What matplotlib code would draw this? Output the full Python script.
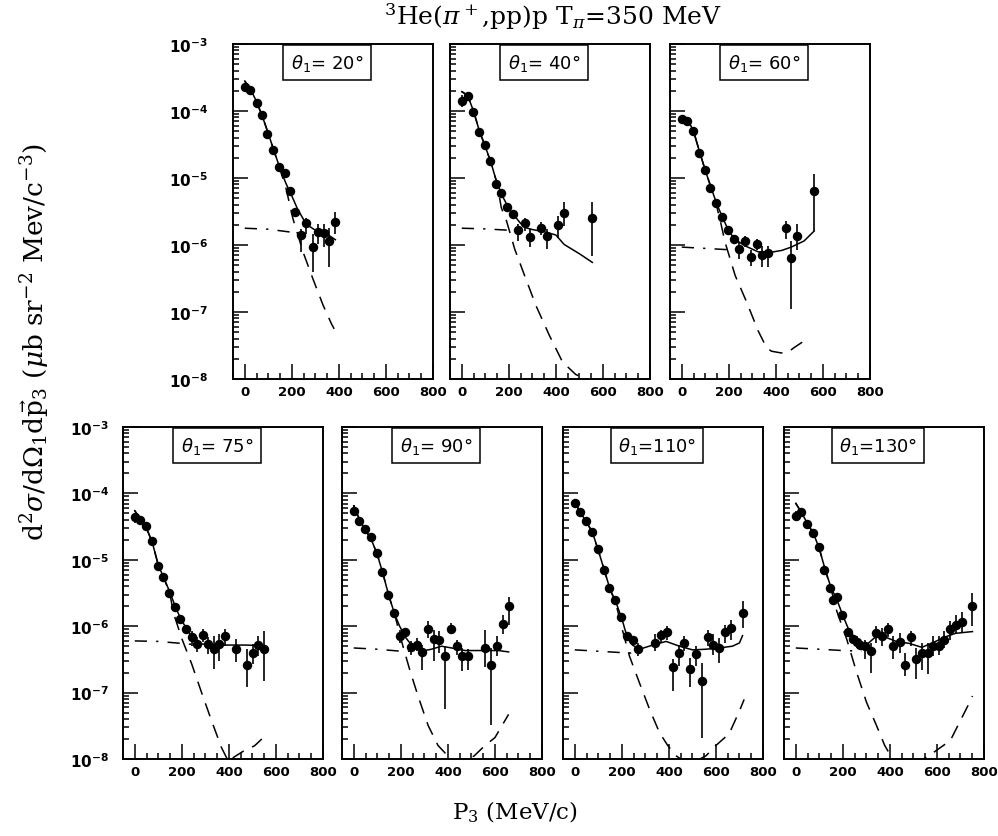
import numpy as np
import matplotlib
matplotlib.use("Agg")
import matplotlib.pyplot as plt
from matplotlib.ticker import LogLocator, MultipleLocator, NullFormatter, FuncFormatter

nan = np.nan

# ---- theta1 = 20 deg ----
x20 = [0, 24, 50, 72, 96, 120, 145, 170, 191, 215, 240, 262, 288, 312, 336, 360, 384]
y20 = [2.3e-4, 2.05e-4, 1.3e-4, 8.7e-5, 4.6e-5, 2.6e-5, 1.45e-5, 1.2e-5, 6.4e-6, 3.15e-6,
       1.42e-6, 2.1e-6, 9.3e-7, 1.58e-6, 1.5e-6, 1.16e-6, 2.2e-6]
hi20 = [nan] * 10 + [1.74e-6, 2.57e-6, 1.45e-6, 2.04e-6, 2.04e-6, 1.82e-6, 3.1e-6]
lo20 = [nan] * 10 + [7.8e-7, 1.45e-6, 3.9e-7, 1.03e-6, 9.3e-7, 4.7e-7, 1.45e-6]
cx20 = [0, 25, 50, 75, 100, 125, 150, 175, 200, 225, 250, 275, 300, 325, 350, 385]
full20 = [2.8e-4, 2.1e-4, 1.38e-4, 8.3e-5, 4.6e-5, 2.5e-5, 1.38e-5, 8.3e-6, 5.4e-6, 3.4e-6,
          2.4e-6, 1.9e-6, 1.66e-6, 1.55e-6, 1.45e-6, 1.2e-6]
qx20 = [0, 25, 50, 75, 100, 125, 150, 175, 205, 248, 290, 333, 369, 380]
qfs20 = [2.8e-4, 2.1e-4, 1.38e-4, 8.3e-5, 4.6e-5, 2.5e-5, 1.35e-5, 7.1e-6, 2.45e-6, 7.8e-7,
         3.1e-7, 1.26e-7, 6.6e-8, 5.6e-8]
bx20 = [0, 100, 200, 240]
bg20 = [1.78e-6, 1.72e-6, 1.55e-6, 1.35e-6]

# ---- theta1 = 40 deg ----
x40 = [0, 25, 49, 73, 97, 121, 145, 168, 194, 218, 241, 267, 291, 338, 362, 411, 435, 554]
y40 = [1.42e-4, 1.65e-4, 9.8e-5, 4.9e-5, 3.1e-5, 1.8e-5, 8.1e-6, 6.0e-6, 3.7e-6, 2.9e-6,
       1.66e-6, 2.1e-6, 1.3e-6, 1.8e-6, 1.35e-6, 2.0e-6, 3.0e-6, 2.5e-6]
hi40 = [1.75e-4] + [nan] * 9 + [2.04e-6, 2.57e-6, 1.74e-6, 2.19e-6, 1.74e-6, 2.75e-6, 4.4e-6, 4.4e-6]
lo40 = [1.15e-4] + [nan] * 9 + [1.15e-6, 1.62e-6, 9.3e-7, 1.41e-6, 8.7e-7, 1.26e-6, 1.95e-6, 6.9e-7]
cx40 = [0, 25, 50, 75, 100, 125, 150, 175, 200, 225, 250, 275, 300, 350, 400, 435, 500, 555]
full40 = [1.95e-4, 1.7e-4, 1.0e-4, 5.0e-5, 2.95e-5, 1.66e-5, 8.3e-6, 5.2e-6, 3.5e-6, 2.7e-6,
          2.1e-6, 1.8e-6, 1.7e-6, 1.58e-6, 1.41e-6, 1.02e-6, 7.4e-7, 5.5e-7]
qx40 = [0, 25, 50, 75, 100, 125, 150, 168, 190, 225, 267, 316, 372, 428, 484, 512]
qfs40 = [1.95e-4, 1.7e-4, 1.0e-4, 5.0e-5, 2.95e-5, 1.66e-5, 8.3e-6, 3.6e-6, 2.3e-6, 8.7e-7,
         3.5e-7, 1.23e-7, 4.5e-8, 1.8e-8, 1.17e-8, 1.05e-8]
bx40 = [0, 100, 200, 270]
bg40 = [1.78e-6, 1.74e-6, 1.66e-6, 1.6e-6]

# ---- theta1 = 60 deg ----
x60 = [0, 24, 49, 73, 98, 122, 146, 171, 195, 220, 244, 269, 293, 318, 343, 367, 441, 465, 490, 563]
y60 = [7.6e-5, 7.0e-5, 5.0e-5, 2.4e-5, 1.3e-5, 7.2e-6, 4.3e-6, 2.6e-6, 1.66e-6, 1.22e-6,
       8.7e-7, 1.15e-6, 6.7e-7, 1.02e-6, 7.1e-7, 7.6e-7, 1.78e-6, 6.5e-7, 1.38e-6, 6.4e-6]
hi60 = [nan] * 10 + [1.1e-6, 1.38e-6, 8.5e-7, 1.23e-6, 9.8e-7, 9.8e-7, 2.29e-6, 1.15e-6, 2.04e-6, 1.15e-5]
lo60 = [nan] * 10 + [6.2e-7, 9.3e-7, 4.9e-7, 8.3e-7, 4.7e-7, 4.7e-7, 1.23e-6, 1.1e-7, 8.3e-7, 1.62e-6]
cx60 = [0, 25, 50, 75, 100, 125, 150, 175, 200, 225, 250, 275, 325, 380, 425, 465, 520, 563]
full60 = [8.3e-5, 7.4e-5, 5.0e-5, 2.5e-5, 1.3e-5, 7.1e-6, 4.0e-6, 2.5e-6, 1.6e-6, 1.23e-6,
          1.07e-6, 9.5e-7, 7.9e-7, 7.8e-7, 8.3e-7, 9.3e-7, 1.15e-6, 1.62e-6]
qx60 = [0, 25, 50, 75, 100, 125, 150, 165, 184, 227, 276, 325, 360, 381, 422, 450, 478, 520]
qfs60 = [8.3e-5, 7.4e-5, 5.0e-5, 2.5e-5, 1.3e-5, 7.1e-6, 3.6e-6, 2.2e-6, 1.1e-6, 3.5e-7,
         1.4e-7, 5.2e-8, 2.95e-8, 2.6e-8, 2.45e-8, 2.5e-8, 2.95e-8, 3.7e-8]
bx60 = [0, 100, 200, 240]
bg60 = [9.3e-7, 8.9e-7, 8.5e-7, 8.3e-7]

# ---- theta1 = 75 deg ----
x75 = [0, 24, 49, 73, 98, 122, 146, 170, 194, 218, 242, 264, 288, 312, 336, 360, 384, 431,
       478, 502, 524, 548]
y75 = [4.4e-5, 4.0e-5, 3.2e-5, 1.9e-5, 8.0e-6, 5.5e-6, 3.15e-6, 1.95e-6, 1.3e-6, 9.1e-7,
       6.8e-7, 5.4e-7, 7.4e-7, 5.4e-7, 4.6e-7, 5.4e-7, 7.2e-7, 4.6e-7, 2.6e-7, 3.9e-7, 5.2e-7, 4.6e-7]
hi75 = [4.9e-5] + [nan] * 9 + [8.5e-7, 6.9e-7, 9.1e-7, 6.8e-7, 7.2e-7, 7.6e-7, 9.1e-7, 6.5e-7,
                               4.6e-7, 5.4e-7, 7.2e-7, 8.5e-7]
lo75 = [3.6e-5] + [nan] * 9 + [5.1e-7, 4.1e-7, 5.8e-7, 3.8e-7, 2.3e-7, 3.0e-7, 5.1e-7, 2.9e-7,
                               1.2e-7, 2.7e-7, 3.6e-7, 1.5e-7]
cx75 = [0, 25, 50, 75, 100, 125, 150, 175, 200, 225, 250, 284, 380, 470, 550]
full75 = [5.5e-5, 4.0e-5, 3.0e-5, 1.8e-5, 8.3e-6, 5.2e-6, 3.2e-6, 1.86e-6, 1.2e-6, 8.7e-7,
          6.3e-7, 5.4e-7, 5.2e-7, 5.2e-7, 5.1e-7]
qx75 = [0, 25, 50, 75, 100, 125, 150, 164, 200, 242, 284, 326, 368, 400, 422, 467, 509, 540]
qfs75 = [5.5e-5, 4.0e-5, 3.0e-5, 1.8e-5, 8.3e-6, 5.2e-6, 3.0e-6, 1.6e-6, 6.5e-7, 2.7e-7,
         1.0e-7, 3.8e-8, 1.5e-8, 8.9e-9, 1.07e-8, 1.35e-8, 1.58e-8, 2.0e-8]
bx75 = [0, 100, 200, 250]
bg75 = [6.0e-7, 5.9e-7, 5.5e-7, 5.3e-7]

# ---- theta1 = 90 deg ----
x90 = [0, 24, 48, 73, 97, 121, 145, 169, 195, 219, 243, 268, 292, 316, 340, 364, 389, 413,
       437, 461, 485, 557, 583, 608, 633, 658]
y90 = [5.5e-5, 3.8e-5, 2.9e-5, 2.2e-5, 1.26e-5, 6.5e-6, 3.0e-6, 1.58e-6, 7.2e-7, 8.2e-7,
       4.9e-7, 5.3e-7, 4.1e-7, 9.1e-7, 6.5e-7, 6.1e-7, 3.5e-7, 9.1e-7, 5.0e-7, 3.5e-7, 3.5e-7,
       4.7e-7, 2.6e-7, 5.0e-7, 1.07e-6, 2.0e-6]
hi90 = [6.8e-5] + [nan] * 7 + [8.9e-7, nan, 5.9e-7, 6.6e-7, 5.3e-7, 1.19e-6, 8.9e-7, 8.4e-7,
                               5.0e-7, 1.12e-6, 6.3e-7, 4.7e-7, 4.5e-7, 8.9e-7, 4.7e-7, 7.1e-7,
                               1.5e-6, 2.8e-6]
lo90 = [4.5e-5] + [nan] * 7 + [5.6e-7, nan, 3.7e-7, 4.2e-7, 2.2e-7, 6.6e-7, 3.0e-7, 4.0e-7,
                               5.6e-8, 7.5e-7, 3.7e-7, 2.1e-7, 2.2e-7, 2.4e-7, 3.2e-8, 3.5e-7,
                               7.5e-7, 1.06e-6]
cx90 = [0, 25, 50, 75, 100, 125, 150, 175, 195, 220, 245, 287, 330, 373, 416, 473, 544, 615, 658]
full90 = [6.5e-5, 4.0e-5, 2.8e-5, 2.0e-5, 1.2e-5, 6.0e-6, 2.8e-6, 1.48e-6, 1.0e-6, 6.8e-7,
          5.2e-7, 4.2e-7, 4.5e-7, 5.0e-7, 4.7e-7, 4.3e-7, 4.3e-7, 4.3e-7, 4.1e-7]
qx90 = [0, 25, 50, 75, 100, 125, 150, 175, 190, 209, 238, 273, 316, 358, 394, 420, 458, 510,
        558, 600, 658]
qfs90 = [6.5e-5, 4.0e-5, 2.8e-5, 2.0e-5, 1.2e-5, 6.0e-6, 2.8e-6, 1.45e-6, 9.0e-7, 5.0e-7,
         2.2e-7, 8.9e-8, 3.2e-8, 1.6e-8, 1.17e-8, 9.0e-9, 9.5e-9, 1.1e-8, 1.6e-8, 2.1e-8, 4.7e-8]
bx90 = [0, 100, 200, 280]
bg90 = [4.7e-7, 4.5e-7, 4.2e-7, 4.2e-7]

# ---- theta1 = 110 deg ----
x110 = [0, 24, 48, 73, 97, 123, 147, 171, 196, 220, 246, 270, 343, 367, 392, 416, 442, 466,
        490, 515, 539, 565, 589, 614, 638, 663, 713]
y110 = [7.1e-5, 5.2e-5, 3.8e-5, 2.6e-5, 1.45e-5, 7.1e-6, 3.7e-6, 2.45e-6, 1.36e-6, 7.1e-7,
        6.1e-7, 4.6e-7, 5.6e-7, 7.3e-7, 8.2e-7, 2.4e-7, 4.0e-7, 5.6e-7, 2.3e-7, 3.8e-7, 1.5e-7,
        6.8e-7, 5.3e-7, 4.7e-7, 8.2e-7, 9.3e-7, 1.6e-6]
hi110 = [nan] * 11 + [5.6e-7, 7.5e-7, 8.9e-7, 1.0e-6, 3.2e-7, 5.3e-7, 7.1e-7, 3.3e-7, 5.0e-7,
                      2.8e-7, 8.9e-7, 7.5e-7, 6.6e-7, 1.06e-6, 1.26e-6, 2.4e-6]
lo110 = [nan] * 11 + [3.5e-7, 4.2e-7, 5.6e-7, 6.3e-7, 1.05e-7, 2.5e-7, 4.2e-7, 1.2e-7, 2.5e-7,
                      2.1e-8, 5.0e-7, 3.7e-7, 2.8e-7, 5.6e-7, 6.3e-7, 9.4e-7]
cx110 = [0, 25, 50, 75, 100, 125, 150, 175, 200, 220, 245, 275, 332, 388, 445, 501, 558, 614,
         670, 700, 713]
full110 = [7.4e-5, 5.1e-5, 3.7e-5, 2.6e-5, 1.38e-5, 7.1e-6, 3.6e-6, 2.3e-6, 1.3e-6, 7.4e-7,
           5.2e-7, 4.5e-7, 5.2e-7, 5.9e-7, 5.0e-7, 4.4e-7, 4.5e-7, 4.7e-7, 5.0e-7, 5.6e-7, 7.2e-7]
qx110 = [0, 25, 50, 75, 100, 125, 150, 175, 198, 233, 275, 318, 360, 395, 430, 460, 520, 558,
         600, 656, 699, 720]
qfs110 = [7.4e-5, 5.1e-5, 3.7e-5, 2.6e-5, 1.38e-5, 7.1e-6, 3.6e-6, 2.2e-6, 1.0e-6, 3.5e-7,
          1.4e-7, 5.6e-8, 2.5e-8, 1.6e-8, 1.12e-8, 9.5e-9, 9.5e-9, 1.12e-8, 1.6e-8, 2.4e-8,
          5.2e-8, 7.9e-8]
bx110 = [0, 100, 200, 260]
bg110 = [4.4e-7, 4.2e-7, 4.0e-7, 3.9e-7]

# ---- theta1 = 130 deg ----
x130 = [0, 24, 49, 73, 98, 122, 147, 157, 175, 196, 221, 245, 262, 273, 294, 319, 343, 366,
        392, 415, 441, 464, 488, 512, 536, 560, 583, 608, 632, 657, 681, 706, 751]
y130 = [4.6e-5, 5.2e-5, 3.5e-5, 2.5e-5, 1.55e-5, 7.1e-6, 3.8e-6, 2.5e-6, 2.8e-6, 1.45e-6,
        8.3e-7, 6.5e-7, 5.8e-7, 5.2e-7, 5.0e-7, 4.2e-7, 7.8e-7, 7.1e-7, 9.1e-7, 5.1e-7, 5.8e-7,
        2.6e-7, 6.9e-7, 3.2e-7, 4.0e-7, 4.0e-7, 5.1e-7, 5.1e-7, 6.3e-7, 9.1e-7, 1.05e-6,
        1.17e-6, 2.0e-6]
hi130 = [5.5e-5] + [nan] * 11 + [7.1e-7, nan, 6.3e-7, 5.6e-7, 1.0e-6, 9.4e-7, 1.12e-6, 7.1e-7,
                                 7.9e-7, 4.0e-7, 8.4e-7, 4.7e-7, 5.6e-7, 5.6e-7, 7.1e-7, 7.1e-7,
                                 8.4e-7, 1.19e-6, 1.5e-6, 1.66e-6, 3.2e-6]
lo130 = [3.8e-5] + [nan] * 11 + [4.7e-7, nan, 3.2e-7, 2.0e-7, 5.6e-7, 5.0e-7, 6.9e-7, 3.2e-7,
                                 4.0e-7, 1.8e-7, 5.0e-7, 1.6e-7, 2.2e-7, 1.9e-7, 3.5e-7, 3.7e-7,
                                 4.7e-7, 6.3e-7, 7.5e-7, 7.9e-7, 1.0e-6]
cx130 = [0, 25, 50, 75, 100, 125, 150, 175, 200, 225, 250, 294, 343, 378, 427, 483, 536, 580,
         636, 678, 751]
full130 = [7.1e-5, 5.1e-5, 3.5e-5, 2.5e-5, 1.48e-5, 7.1e-6, 3.8e-6, 2.5e-6, 1.45e-6, 8.9e-7,
           6.8e-7, 5.0e-7, 7.1e-7, 6.9e-7, 5.9e-7, 5.5e-7, 4.8e-7, 5.6e-7, 6.9e-7, 7.8e-7, 8.3e-7]
qx130 = [0, 25, 50, 75, 100, 125, 150, 175, 217, 259, 301, 343, 378, 420, 520, 566, 657, 734, 751]
qfs130 = [7.1e-5, 5.1e-5, 3.5e-5, 2.5e-5, 1.48e-5, 7.1e-6, 3.6e-6, 1.66e-6, 6.3e-7, 2.0e-7,
          7.1e-8, 3.2e-8, 1.6e-8, 8.9e-9, 8.9e-9, 1.12e-8, 1.9e-8, 6.6e-8, 8.9e-8]
bx130 = [0, 100, 200, 280]
bg130 = [4.7e-7, 4.5e-7, 4.3e-7, 4.2e-7]

angles = ["20", "40", "60", "75", "90", "110", "130"]

plt.rcParams["mathtext.fontset"] = "dejavusans"

fig = plt.figure(figsize=(9.98, 8.37), dpi=100)
W, H = 998.0, 837.0


def make_axes(left_px, top_px, bottom_px, width_px=200):
    return fig.add_axes([left_px / W, 1 - bottom_px / H, width_px / W, (bottom_px - top_px) / H])


axes = [make_axes(233, 45, 380), make_axes(450, 45, 380), make_axes(670, 45, 380),
        make_axes(123, 428, 760), make_axes(342, 428, 760), make_axes(563, 428, 760),
        make_axes(784, 428, 760)]

sets = [
    (x20, y20, lo20, hi20, cx20, full20, qx20, qfs20, bx20, bg20),
    (x40, y40, lo40, hi40, cx40, full40, qx40, qfs40, bx40, bg40),
    (x60, y60, lo60, hi60, cx60, full60, qx60, qfs60, bx60, bg60),
    (x75, y75, lo75, hi75, cx75, full75, qx75, qfs75, bx75, bg75),
    (x90, y90, lo90, hi90, cx90, full90, qx90, qfs90, bx90, bg90),
    (x110, y110, lo110, hi110, cx110, full110, qx110, qfs110, bx110, bg110),
    (x130, y130, lo130, hi130, cx130, full130, qx130, qfs130, bx130, bg130),
]

for i, (ax, ang, d) in enumerate(zip(axes, angles, sets)):
    x, y, lo, hi, cx, full, qx, qfs, bx, bg = d
    y = np.array(y)
    lo = np.array(lo, dtype=float)
    hi = np.array(hi, dtype=float)
    lo = np.where(np.isnan(lo), y, lo)
    hi = np.where(np.isnan(hi), y, hi)

    ax.set_yscale("log")
    ax.set_xlim(-50, 800)
    ax.set_ylim(1e-8, 1e-3)

    ax.plot(cx, full, color="k", lw=1.1)
    ax.plot(qx, qfs, color="k", lw=1.1, ls=(0, (9, 6)))
    ax.plot(bx, bg, color="k", lw=1.1, ls=(0, (8, 6, 1.5, 6)))
    ax.errorbar(x, y, yerr=[y - lo, hi - y], fmt="o", color="k", ms=5.8,
                elinewidth=1.2, capsize=0)

    for s in ax.spines.values():
        s.set_linewidth(1.4)

    ax.xaxis.set_major_locator(MultipleLocator(200))
    ax.xaxis.set_minor_locator(MultipleLocator(50))
    ax.yaxis.set_major_locator(LogLocator(base=10, numticks=10))
    ax.yaxis.set_minor_locator(LogLocator(base=10, subs=np.arange(2, 10), numticks=20))
    ax.yaxis.set_minor_formatter(NullFormatter())
    ax.tick_params(which="both", direction="in", top=False, right=False, width=1.1)
    ax.tick_params(which="major", length=11)
    ax.tick_params(which="minor", length=4.5)
    ax.tick_params(axis="x", which="major", pad=4, labelsize=9.5)
    for lbl in ax.get_xticklabels():
        lbl.set_fontweight("bold")

    if i in (0, 3):
        ax.yaxis.set_major_formatter(
            FuncFormatter(lambda v, p: r"$\mathbf{10^{%d}}$" % int(round(np.log10(v)))))
        ax.tick_params(axis="y", which="major", labelsize=11, pad=18 if i == 0 else 10)
    else:
        ax.yaxis.set_major_formatter(NullFormatter())

    label = r"$\theta_1$=%s°" % (ang if len(ang) == 3 else " " + ang)
    ax.text(0.47, 0.976, label, transform=ax.transAxes, ha="center", va="top",
            fontsize=13, family="DejaVu Sans",
            bbox=dict(boxstyle="square,pad=0.4", fc="white", ec="black", lw=1.1))

fig.text(0.554, 0.980, r"$^3$He($\pi^+$,pp)p T$_\pi$=350 MeV", ha="center", va="center",
         family="DejaVu Serif", fontsize=18, math_fontfamily="dejavuserif")
fig.text(0.035, 0.591,
         r"d$^2\sigma$/d$\Omega_1$d$\vec{\mathrm{p}}_3$ ($\mu$b sr$^{-2}$ Mev/c$^{-3}$)",
         rotation=90, ha="center", va="center", family="DejaVu Serif", fontsize=19,
         math_fontfamily="dejavuserif")
fig.text(0.516, 0.029, r"P$_3$ (MeV/c)", ha="center", va="center",
         family="DejaVu Serif", fontsize=16.5, math_fontfamily="dejavuserif")

fig.savefig("out.png", dpi=100)
